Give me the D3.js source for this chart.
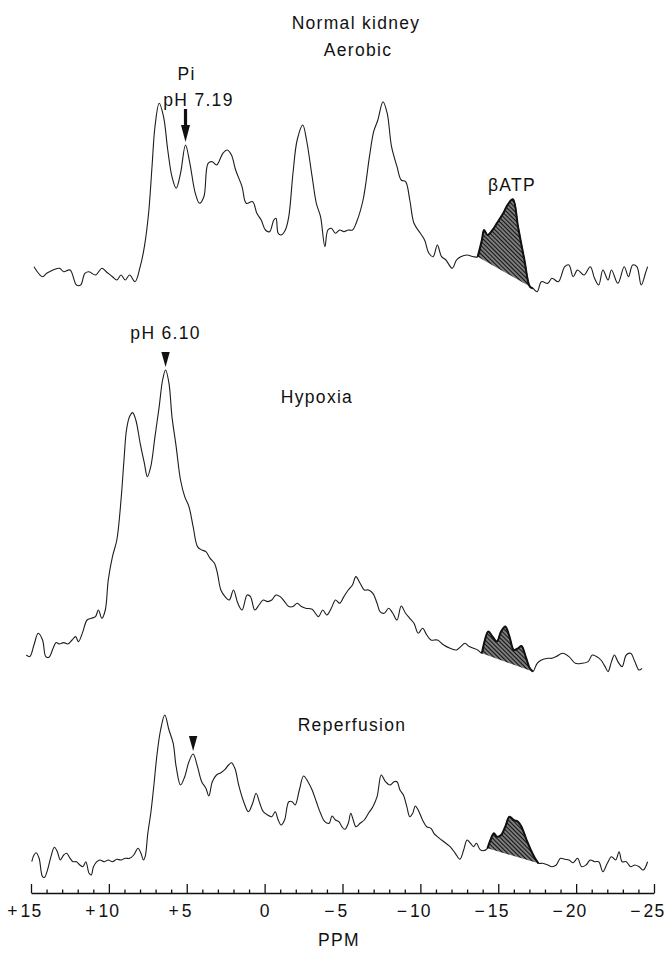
<!DOCTYPE html>
<html>
<head>
<meta charset="utf-8">
<script src="https://cdn.jsdelivr.net/npm/d3@7"></script>
<style>
  html, body { margin: 0; padding: 0; background: #fff; }
  svg { display: block; }
  text { font-family: "Liberation Sans", Arial, sans-serif; fill: #111; }
</style>
</head>
<body>
<svg id="chart" width="665" height="954"></svg>
<script>
// 31P NMR spectra of the kidney: chemical shift (ppm) against signal intensity (arbitrary units)

const aerobicPpm = [14.81,14.26,13.99,13.58,13.17,12.90,12.49,12.08,11.81,11.54,
  11.27,10.86,10.45,10.17,9.77,9.49,9.22,8.95,8.67,8.32,
  7.99,7.72,7.45,7.23,7.04,6.77,6.49,6.22,5.95,5.68,
  5.40,5.08,4.80,4.45,4.18,3.90,3.63,3.36,3.09,2.68,
  2.40,2.13,1.86,1.45,1.18,0.77,0.50,0.22,-0.05,-0.32,
  -0.59,-0.73,-0.87,-1.06,-1.33,-1.55,-1.82,-2.09,-2.45,-2.69,
  -3.05,-3.32,-3.59,-3.87,-4.06,-4.28,-4.55,-4.82,-5.09,-5.37,
  -5.64,-5.91,-6.32,-6.73,-7.00,-7.27,-7.60,-7.87,-8.15,-8.50,
  -8.77,-9.05,-9.32,-9.59,-10.00,-10.27,-10.55,-10.82,-11.09,-11.36,
  -11.64,-12.04,-12.32,-12.59,-13.00,-13.41,-13.68,-13.95,-14.09,-14.31,
  -14.63,-14.91,-15.32,-15.59,-15.94,-16.27,-16.68,-17.03,-17.22,-17.50,
  -17.77,-18.18,-18.45,-18.86,-19.27,-19.54,-19.81,-20.09,-20.50,-20.91,
  -21.18,-21.45,-21.72,-22.05,-22.27,-22.68,-23.09,-23.36,-23.63,-23.90,
  -24.18,-24.45,-24.59];
const aerobicIntensity = [8.3,-1.7,1.7,5,6.7,3.3,5,-10,-10,1.7,
  3.3,0,6.7,3.3,-1.7,-5,0,-5,0,-6.7,
  8.3,28.3,61.7,108.3,148.3,171.7,158.3,125,98.3,86.7,
  101.7,130,111.7,81.7,71.7,78.3,111.7,113.3,110,121.7,
  125,120,105,88.3,71.7,73.3,61.7,55,45,43.3,
  55,56.7,41.7,40,45,58.3,101.7,135,150,135,
  98.3,71.7,58.3,28.3,45,46.7,41.7,45,43.3,45,
  45,53.3,75,118.3,143.3,155,173.3,161.7,128.3,108.3,
  95,93.3,75,51.7,41.7,35,21.7,18.3,30,18.3,
  15,6.7,15,18.3,20,18.3,18.3,35,45,40,
  45,51.7,61.7,70,75.7,48.3,15,-11.7,-13.3,-16.7,
  -6.7,-8.3,-3.3,-6.7,8.3,10,-1.7,5,0,8.3,
  -3.3,-10,5,-5,5,-8.3,8.3,-1.7,10,8.3,
  -10,1.7,8.3];

const hypoxiaPpm = [15.30,15.08,14.81,14.54,14.26,14.05,13.85,13.58,13.39,13.17,
  12.90,12.63,12.36,12.14,11.95,11.67,11.40,11.13,10.86,10.67,
  10.45,10.23,10.04,9.77,9.49,9.22,9.03,8.87,8.67,8.48,
  8.27,7.99,7.72,7.53,7.31,7.04,6.77,6.55,6.36,6.14,
  5.95,5.68,5.40,5.13,4.86,4.59,4.31,4.04,3.77,3.50,
  3.22,3.03,2.81,2.54,2.27,2.00,1.72,1.45,1.12,0.91,
  0.63,0.36,0.09,-0.19,-0.46,-0.73,-1.00,-1.28,-1.55,-1.82,
  -2.09,-2.37,-2.64,-3.05,-3.46,-3.73,-4.00,-4.28,-4.55,-4.82,
  -5.09,-5.37,-5.64,-5.86,-6.13,-6.40,-6.67,-6.95,-7.22,-7.41,
  -7.68,-7.96,-8.23,-8.50,-8.77,-9.05,-9.32,-9.59,-9.86,-10.14,
  -10.41,-10.68,-11.09,-11.50,-11.91,-12.32,-12.59,-12.86,-13.14,-13.41,
  -13.68,-13.95,-14.09,-14.36,-14.63,-14.91,-15.18,-15.45,-15.72,-16.00,
  -16.27,-16.49,-16.76,-17.03,-17.22,-17.50,-17.77,-18.18,-18.45,-18.72,
  -19.13,-19.54,-19.95,-20.36,-20.77,-21.04,-21.31,-21.59,-21.86,-22.05,
  -22.27,-22.46,-22.68,-22.95,-23.22,-23.50,-23.77,-24.04,-24.23];
const hypoxiaIntensity = [-1.7,-3.3,8.3,20,13.3,-3.3,-4,5,10.7,9.3,
  10.7,9.3,13.3,16.7,11.7,21.7,33.3,35,36.7,43.3,
  35,43.3,73.3,96.7,113.3,153.3,193.3,223.3,236.7,240.7,
  233.3,210,190,176.7,186.7,216.7,246.7,273.3,283.3,270,
  236.7,206.7,173.3,156.7,146.7,126.7,106.7,103.3,101.7,95,
  90,80,63.3,56.7,53.3,63.3,50,43.3,58.3,56.7,
  43.3,48.3,53.3,51.7,53.3,58.3,56.7,51.7,46.7,46.7,
  50,46.7,45,44,36.7,43.3,38.3,45,53.3,50,
  56.7,63.3,68.3,76.7,70,63.3,63.3,60,50,41.7,
  40,45,40,33.3,47.3,40,35,30,20,25,
  18.3,13.3,13.3,8.3,5,3.3,6.7,10,6.7,5,
  3.3,0,10,21.7,16.7,11.7,21.7,26.7,16.7,3.3,
  5,7.3,-3.3,-15,-18.3,-10,-6.7,-5,-5,-3.3,
  0,-3.3,-10,-10,-8.3,-1.7,-3.3,-6.7,-13.3,-18.3,
  -8.3,-1.7,-8.3,-13.3,-1.7,0,-8.3,-16.7,-15];

const reperfusionPpm = [14.95,14.81,14.67,14.48,14.26,14.13,13.94,13.72,13.50,13.31,
  13.12,12.90,12.71,12.49,12.30,12.08,11.86,11.67,11.48,11.27,
  11.13,10.99,10.77,10.58,10.31,10.04,9.77,9.49,9.22,8.95,
  8.67,8.40,8.13,7.94,7.78,7.67,7.50,7.31,7.12,6.90,
  6.68,6.41,6.14,5.87,5.68,5.40,5.13,4.86,4.59,4.31,
  4.04,3.77,3.58,3.36,3.09,2.81,2.54,2.32,2.13,1.91,
  1.64,1.31,1.04,0.77,0.55,0.31,0.09,-0.19,-0.46,-0.68,
  -0.87,-1.06,-1.28,-1.55,-1.77,-1.96,-2.23,-2.50,-2.78,-3.05,
  -3.32,-3.59,-3.87,-4.14,-4.33,-4.55,-4.77,-4.96,-5.15,-5.37,
  -5.53,-5.69,-5.86,-6.13,-6.40,-6.67,-6.95,-7.22,-7.49,-7.76,
  -8.04,-8.31,-8.50,-8.69,-8.91,-9.13,-9.32,-9.51,-9.67,-9.86,
  -10.14,-10.41,-10.68,-10.87,-11.09,-11.36,-11.64,-11.91,-12.24,-12.54,
  -12.78,-13.00,-13.22,-13.41,-13.60,-13.82,-14.03,-14.31,-14.50,-14.72,
  -14.91,-15.18,-15.45,-15.72,-16.00,-16.27,-16.49,-16.82,-17.09,-17.36,
  -17.58,-17.85,-18.18,-18.45,-18.72,-18.99,-19.27,-19.54,-19.81,-20.09,
  -20.36,-20.63,-20.91,-21.18,-21.45,-21.72,-22.00,-22.27,-22.54,-22.76,
  -22.95,-23.22,-23.50,-23.77,-24.04,-24.31,-24.59];
const reperfusionIntensity = [-1.7,5,7.3,1.7,-16.7,-17.3,-10,3.3,12.7,8.3,
  0,5,6.7,1.7,-1.7,-1.7,-5,-6.7,-1.7,-13.3,
  -15,-6.7,-1.7,0,-1.7,0,-1.7,0.7,0,1.7,
  1.7,5,11.7,6.7,0,3.3,26.7,46.7,73.3,106.7,
  130,145,130,116.7,93.3,75,83.3,98.3,106,93.3,
  78.3,71.7,64,78.3,85,87.3,90.7,95,97.3,91.7,
  73.3,56.7,48.3,56.7,66.7,56.7,48.3,45,43.3,48.3,
  40,35,40,58.3,58.3,55,70,84,78.3,70,
  58.3,46.7,38.3,36.7,44,40,38.3,33.3,30.7,36.7,
  46.7,40,33.3,36.7,40,46.7,53.3,63.3,85,78.3,
  75,78.3,78.3,70,65,53.3,43.3,46.7,54,50,
  40,33.3,31.7,26.7,23.3,20,16.7,13.3,6.7,0.7,
  10,20,16.7,13.3,16.7,10.7,9.3,11.7,20,26.7,
  23.3,25,33.3,43.3,40,38.3,33.3,20,10,1.7,
  -3.3,-3.3,-5,-6.7,-5,1.7,0.7,0,-2.7,1.7,
  -6.7,-5,0,-1.7,-1.7,-11.7,-3.3,3.3,0,8.3,
  -1.7,-1.7,-6.7,-5,-6.7,-10,-1.7];

// beta-ATP resonance limits (ppm) shaded in each spectrum
const atpRegions = [[-13.68, -17.22], [-13.95, -17.22], [-14.31, -17.58]];
// Pi peak marked in each spectrum (ppm)
const piMarkerPpm = [5.08, 6.36, 4.59];
const panelTitles = ["Aerobic", "Hypoxia", "Reperfusion"];

const majorTicks = [15, 10, 5, 0, -5, -10, -15, -20, -25];
const tickLabels = ["+ 15", "+ 10", "+ 5", "0", "\u2212 5", "\u2212 10", "\u2212 15", "\u2212 20", "\u2212 25"];
const minorTicks = d3.range(15, -25.5, -1).filter(v => v % 5 !== 0);

// ---- layout ----
const svg = d3.select("#chart");
const x = d3.scaleLinear().domain([15, -25]).range([31, 654]);
const panelBase = [275, 653.3, 860];   // y position of zero intensity in each panel
const axisY = 893;

const spectra = [
  { ppm: aerobicPpm, val: aerobicIntensity },
  { ppm: hypoxiaPpm, val: hypoxiaIntensity },
  { ppm: reperfusionPpm, val: reperfusionIntensity }
];

const defs = svg.append("defs");
const pat = defs.append("pattern")
  .attr("id", "hatch").attr("patternUnits", "userSpaceOnUse")
  .attr("width", 3).attr("height", 3)
  .attr("patternTransform", "rotate(-45)");
pat.append("rect").attr("width", 3).attr("height", 3).attr("fill", "#fff");
pat.append("line").attr("x1", 1.5).attr("x2", 1.5).attr("y1", -1).attr("y2", 4)
  .attr("stroke", "#111").attr("stroke-width", 2.1);

const labelStyle = sel => sel.attr("font-size", 17.5).attr("letter-spacing", 1.3).attr("text-anchor", "middle");

spectra.forEach((s, i) => {
  const y = d3.scaleLinear().domain([0, 100]).range([panelBase[i], panelBase[i] - 100]);
  const pts = s.ppm.map((p, k) => [p, s.val[k]]);
  const line = d3.line().x(d => x(d[0])).y(d => y(d[1])).curve(d3.curveCatmullRom.alpha(0.5));
  const g = svg.append("g");

  // hatched beta-ATP area: trace above, straight chord below
  const [a0, a1] = atpRegions[i];
  const atp = pts.filter(d => d[0] <= a0 && d[0] >= a1);
  g.append("path").attr("d", line(atp) + "Z").attr("fill", "url(#hatch)").attr("stroke", "none");

  g.append("path").attr("d", line(pts)).attr("fill", "none")
    .attr("stroke", "#1c1c1c").attr("stroke-width", 1.1).attr("stroke-linejoin", "round");
  g.append("path").attr("d", line(atp)).attr("fill", "none")
    .attr("stroke", "#111").attr("stroke-width", 2);

  // Pi marker
  const k = s.ppm.indexOf(piMarkerPpm[i]);
  const mx = x(piMarkerPpm[i]);
  const my = y(s.val[k]) - 3;
  if (i === 0) {
    g.append("rect").attr("x", mx - 1.6).attr("y", my - 33).attr("width", 3.2).attr("height", 18).attr("fill", "#111");
    g.append("path").attr("d", `M${mx - 4.5},${my - 17}L${mx + 4.5},${my - 17}L${mx},${my}Z`).attr("fill", "#111");
    g.append("text").call(labelStyle).attr("x", mx + 1).attr("y", my - 62).text("Pi");
    g.append("text").call(labelStyle).attr("x", mx + 13).attr("y", my - 36).text("pH 7.19");
  } else {
    g.append("path").attr("d", `M${mx - 4.2},${my - 15}L${mx + 4.2},${my - 15}L${mx},${my}Z`).attr("fill", "#111");
    if (i === 1) g.append("text").call(labelStyle).attr("x", mx).attr("y", my - 28).text("pH 6.10");
  }
});

// panel captions
svg.append("text").call(labelStyle).attr("x", 356).attr("y", 29).text("Normal kidney");
svg.append("text").call(labelStyle).attr("x", 358).attr("y", 56).text(panelTitles[0]);
svg.append("text").call(labelStyle).attr("x", 317).attr("y", 403).text(panelTitles[1]);
svg.append("text").call(labelStyle).attr("x", 352).attr("y", 731).text(panelTitles[2]);
svg.append("text").call(labelStyle).attr("x", 512).attr("y", 191).text("\u03b2ATP");

// chemical-shift axis
const axisG = svg.append("g").attr("transform", `translate(0,${axisY})`);
const minorG = axisG.append("g").call(d3.axisBottom(x).tickValues(minorTicks).tickSize(-3.5).tickFormat(""));
minorG.select(".domain").remove();
const majorG = axisG.append("g").call(d3.axisBottom(x).tickValues(majorTicks).tickSize(-9).tickSizeOuter(0).tickFormat(""));
axisG.selectAll(".domain").attr("stroke", "#111").attr("stroke-width", 1.6);
axisG.selectAll(".tick line").attr("stroke", "#111").attr("stroke-width", 1.3);

majorG.selectAll(".tick").each(function (d, i) {
  const t = d3.select(this);
  const parts = tickLabels[i].split(" ");
  const num = parts[parts.length - 1];
  const sign = parts.length > 1 ? parts[0] : "";
  const nt = t.append("text").attr("x", 0).attr("y", 24).attr("font-size", 17.5)
    .attr("letter-spacing", 1.2).attr("text-anchor", "middle").attr("fill", "#111").text(num);
  if (sign) {
    const w = nt.node().getComputedTextLength();
    t.append("text").attr("x", -w / 2 - 3).attr("y", 24).attr("font-size", 17.5)
      .attr("text-anchor", "end").attr("fill", "#111").text(sign);
  }
});

svg.append("text").call(labelStyle).attr("x", 339).attr("y", 946).text("PPM");
</script>
</body>
</html>
